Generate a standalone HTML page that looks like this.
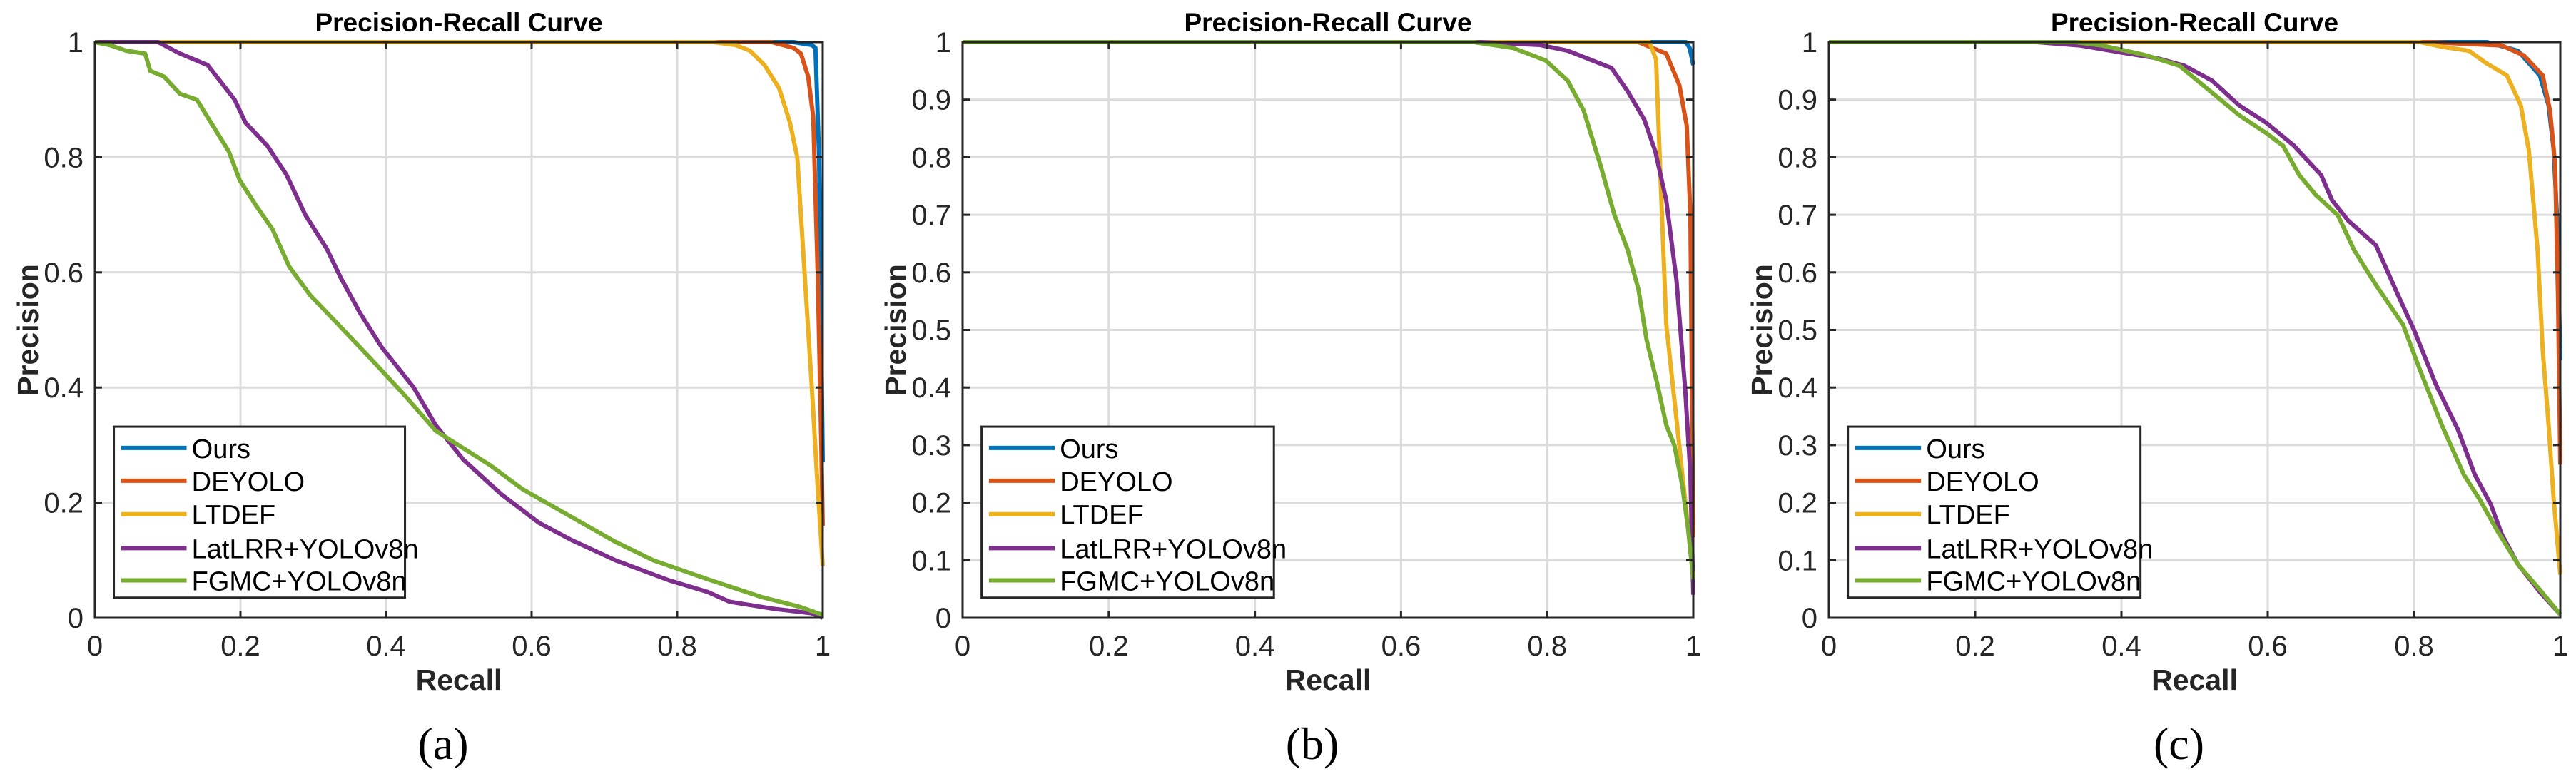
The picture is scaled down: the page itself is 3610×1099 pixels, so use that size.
<!DOCTYPE html>
<html><head><meta charset="utf-8"><style>
html,body{margin:0;padding:0;background:#fff;}
svg{display:block;}
</style></head><body>
<svg id="fig" xmlns="http://www.w3.org/2000/svg" width="3610" height="1099" viewBox="0 0 3610 1099"></svg>
<script>
const seriesNames = ["Ours","DEYOLO","LTDEF","LatLRR+YOLOv8n","FGMC+YOLOv8n"];
const seriesColors = ["#0072BD","#D95319","#EDB120","#7E2F8E","#77AC30"];
const xTicks = [0,0.2,0.4,0.6,0.8,1];
const yTicksA = [0,0.2,0.4,0.6,0.8,1];
const yTicksBC = [0,0.1,0.2,0.3,0.4,0.5,0.6,0.7,0.8,0.9,1];
const panelLabels = ["(a)","(b)","(c)"];

const a_ours = [[0,1],[0.96,1],[0.985,0.995],[0.99,0.99],[0.995,0.8],[1.0,0.27]];
const a_deyolo = [[0,1],[0.93,1],[0.96,0.99],[0.97,0.98],[0.98,0.94],[0.987,0.87],[0.993,0.6],[0.998,0.3],[1.0,0.16]];
const a_ltdef = [[0,1],[0.85,1],[0.88,0.995],[0.9,0.985],[0.92,0.96],[0.94,0.92],[0.955,0.86],[0.965,0.8],[0.975,0.6],[0.985,0.4],[0.992,0.25],[1.0,0.09]];
const a_latlrr = [[0,1],[0.087,1],[0.117,0.98],[0.155,0.96],[0.192,0.9],[0.207,0.86],[0.237,0.82],[0.263,0.77],[0.289,0.7],[0.319,0.64],[0.338,0.59],[0.364,0.53],[0.394,0.47],[0.438,0.4],[0.468,0.335],[0.506,0.275],[0.558,0.215],[0.61,0.165],[0.655,0.135],[0.715,0.1],[0.789,0.065],[0.842,0.045],[0.872,0.028],[0.931,0.016],[0.984,0.008],[1,0]];
const a_fgmc = [[0,1],[0.02,0.995],[0.043,0.985],[0.069,0.98],[0.076,0.95],[0.095,0.94],[0.117,0.91],[0.14,0.9],[0.162,0.855],[0.184,0.81],[0.199,0.76],[0.222,0.715],[0.244,0.675],[0.267,0.61],[0.296,0.56],[0.334,0.51],[0.379,0.45],[0.423,0.39],[0.468,0.325],[0.543,0.265],[0.588,0.223],[0.655,0.175],[0.715,0.132],[0.767,0.1],[0.842,0.067],[0.916,0.036],[0.969,0.019],[1,0.005]];

const b_ours = [[0,1],[0.99,1],[0.995,0.99],[1.0,0.96]];
const b_deyolo = [[0,1],[0.925,1],[0.963,0.98],[0.981,0.925],[0.991,0.855],[0.996,0.7],[1,0.14]];
const b_ltdef = [[0,1],[0.94,1],[0.949,0.97],[0.955,0.77],[0.963,0.51],[0.974,0.38],[0.985,0.25],[1,0.075]];
const b_latlrr = [[0,1],[0.708,1],[0.79,0.995],[0.828,0.985],[0.888,0.955],[0.91,0.915],[0.933,0.865],[0.948,0.81],[0.963,0.725],[0.977,0.587],[0.989,0.396],[0.996,0.25],[1,0.04]];
const b_fgmc = [[0,1],[0.7,1],[0.753,0.99],[0.798,0.968],[0.828,0.933],[0.85,0.881],[0.873,0.786],[0.892,0.7],[0.91,0.64],[0.925,0.57],[0.936,0.483],[0.951,0.405],[0.963,0.335],[0.974,0.3],[0.985,0.23],[0.993,0.153],[1,0.067]];

const c_ours = [[0,1],[0.9,1],[0.942,0.985],[0.972,0.942],[0.984,0.89],[0.991,0.812],[0.996,0.682],[1,0.448]];
const c_deyolo = [[0,1],[0.823,1],[0.92,0.994],[0.95,0.977],[0.976,0.942],[0.986,0.88],[0.993,0.786],[0.997,0.552],[1,0.266]];
const c_ltdef = [[0,1],[0.808,1],[0.838,0.992],[0.875,0.985],[0.898,0.964],[0.927,0.942],[0.946,0.89],[0.957,0.812],[0.969,0.639],[0.976,0.465],[0.984,0.335],[0.991,0.205],[1,0.075]];
const c_latlrr = [[0,1],[0.284,1],[0.344,0.994],[0.404,0.981],[0.449,0.972],[0.486,0.959],[0.524,0.933],[0.561,0.89],[0.598,0.86],[0.636,0.82],[0.673,0.769],[0.688,0.725],[0.71,0.69],[0.748,0.647],[0.778,0.561],[0.8,0.5],[0.83,0.405],[0.86,0.327],[0.883,0.249],[0.905,0.197],[0.92,0.145],[0.942,0.093],[0.972,0.045],[1,0.006]];
const c_fgmc = [[0,1],[0.337,1],[0.374,0.994],[0.434,0.977],[0.479,0.959],[0.524,0.912],[0.561,0.873],[0.598,0.842],[0.621,0.82],[0.643,0.769],[0.666,0.734],[0.696,0.699],[0.718,0.639],[0.748,0.578],[0.785,0.509],[0.808,0.431],[0.838,0.335],[0.868,0.249],[0.89,0.205],[0.913,0.153],[0.942,0.093],[0.972,0.049],[1,0.006]];

const panelSeries = [
  [a_ours,a_deyolo,a_ltdef,a_latlrr,a_fgmc],
  [b_ours,b_deyolo,b_ltdef,b_latlrr,b_fgmc],
  [c_ours,c_deyolo,c_ltdef,c_latlrr,c_fgmc]
];
const panelYTicks = [yTicksA,yTicksBC,yTicksBC];

const NS="http://www.w3.org/2000/svg";
const svg=document.getElementById('fig');
function mk(tag,attrs,parent){const e=document.createElementNS(NS,tag);for(const k in attrs)e.setAttribute(k,attrs[k]);(parent||svg).appendChild(e);return e;}
const lefts=[133,1349,2563], rights=[1153,2373,3588];
const TOP=59, BOT=866;
const FONT='"Liberation Sans", Arial, sans-serif';

panelSeries.forEach((series,p)=>{
  const L=lefts[p], R=rights[p];
  const sx=v=>L+v*(R-L);
  const sy=v=>BOT-v*(BOT-TOP);
  const g=mk('g',{});
  
  
  // grid
  xTicks.forEach(t=>{
    if(t>0&&t<1){const l=mk('line',{x1:sx(t),x2:sx(t),y1:TOP,y2:BOT,stroke:'#dcdcdc','stroke-width':3},g);
    
    }
  });
  panelYTicks[p].forEach(t=>{
    if(t>0&&t<1){const l=mk('line',{x1:L,x2:R,y1:sy(t),y2:sy(t),stroke:'#dcdcdc','stroke-width':3},g);
    
    }
  });
  // series
  series.forEach((s,i)=>{
    const d=s.map((pt,k)=>(k?'L':'M')+sx(pt[0]).toFixed(1)+','+sy(pt[1]).toFixed(1)).join('');
    const path=mk('path',{d:d,fill:'none',stroke:seriesColors[i],'stroke-width':6,'stroke-linejoin':'round'},g);
    
    
  });
  // axes box
  const box=mk('rect',{x:L,y:TOP,width:R-L,height:BOT-TOP,fill:'none',stroke:'#262626','stroke-width':3},g);
  
  
  // ticks + labels
  xTicks.forEach(t=>{
    mk('line',{x1:sx(t),x2:sx(t),y1:BOT,y2:BOT-10,stroke:'#262626','stroke-width':3},g);
    mk('line',{x1:sx(t),x2:sx(t),y1:TOP,y2:TOP+10,stroke:'#262626','stroke-width':3},g);
    const tx=mk('text',{x:sx(t),y:BOT+53,'text-anchor':'middle','font-family':FONT,'font-size':40,fill:'#262626'},g);
    tx.textContent=String(t);
    
    
  });
  panelYTicks[p].forEach(t=>{
    mk('line',{x1:L,x2:L+10,y1:sy(t),y2:sy(t),stroke:'#262626','stroke-width':3},g);
    mk('line',{x1:R,x2:R-10,y1:sy(t),y2:sy(t),stroke:'#262626','stroke-width':3},g);
    const tx=mk('text',{x:L-16,y:sy(t)+14,'text-anchor':'end','font-family':FONT,'font-size':40,fill:'#262626'},g);
    tx.textContent=String(t);
    
    
  });
  const cx=(L+R)/2;
  const title=mk('text',{x:cx,y:44,'text-anchor':'middle','font-family':FONT,'font-size':37,'font-weight':'bold',fill:'#000'},g);
  title.textContent='Precision-Recall Curve';
  
  
  const xl=mk('text',{x:cx,y:967,'text-anchor':'middle','font-family':FONT,'font-size':41,'font-weight':'bold',fill:'#262626'},g);
  xl.textContent='Recall';
  
  
  const yl=mk('text',{x:0,y:0,'text-anchor':'middle','font-family':FONT,'font-size':41,'font-weight':'bold',fill:'#262626',transform:'translate('+(L-80)+','+((TOP+BOT)/2)+') rotate(-90)'},g);
  yl.textContent='Precision';
  
  
  const pl=mk('text',{x:cx-22,y:1064,'text-anchor':'middle','font-family':'"Liberation Serif", serif','font-size':64,fill:'#000'},g);
  pl.textContent=panelLabels[p];
  
  
  // legend
  const lg=mk('g',{},g);
  
  
  const lx0=sx(0.026), lx1=sx(0.426), ly0=TOP+0.668*(BOT-TOP), ly1=TOP+0.965*(BOT-TOP);
  mk('rect',{x:lx0,y:ly0,width:lx1-lx0,height:ly1-ly0,fill:'#fff',stroke:'#262626','stroke-width':3},lg);
  const rows=[0.705,0.762,0.82,0.879,0.935];
  seriesNames.forEach((n,i)=>{
    const ry=TOP+rows[i]*(BOT-TOP);
    const e=mk('g',{},lg);
    
    
    mk('line',{x1:sx(0.036),x2:sx(0.126),y1:ry,y2:ry,stroke:seriesColors[i],'stroke-width':6},e);
    const t=mk('text',{x:sx(0.133),y:ry+14,'font-family':FONT,'font-size':38,fill:'#000'},e);
    t.textContent=n;
  });
});
</script>
</body></html>
